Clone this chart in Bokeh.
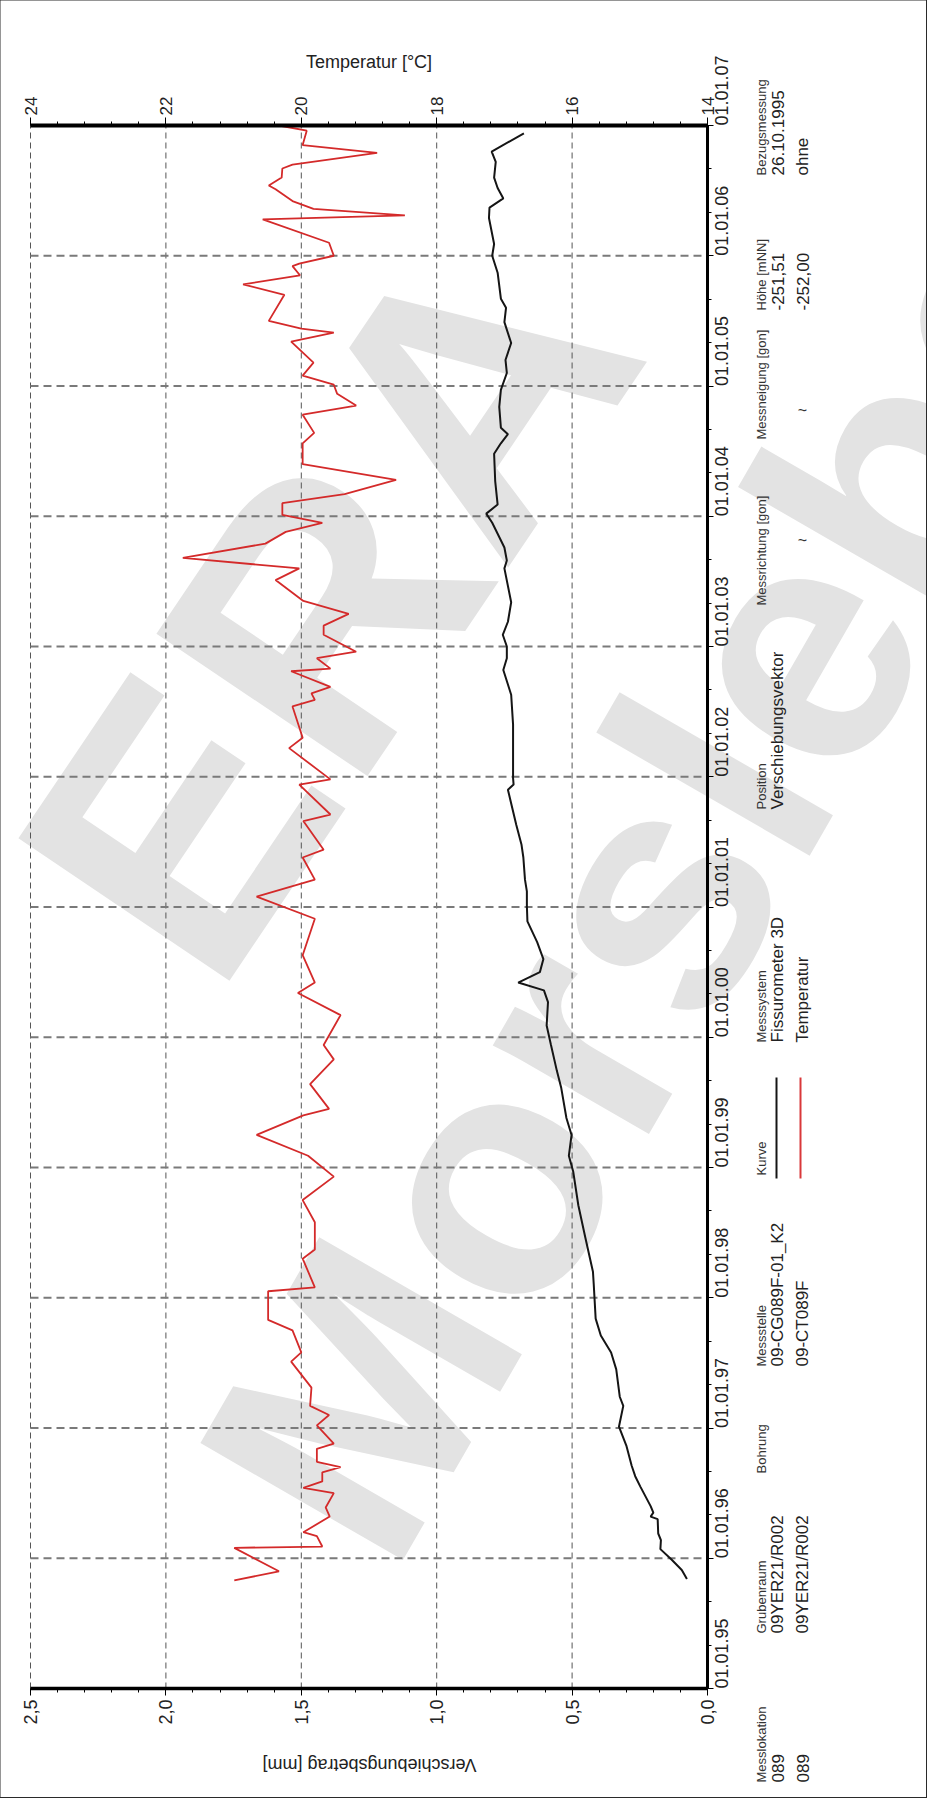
import math
from bokeh.plotting import figure
from bokeh.models import (Range1d, LinearAxis, FixedTicker, CustomJSTickFormatter,
                          Label, BoxAnnotation, InlineStyleSheet)
from bokeh.embed import file_html
from bokeh.resources import INLINE

# ---------------- data ----------------
# Fissurometer 3D - Verschiebungsbetrag [mm]
disp_year = [1995.84, 1995.91, 1995.99, 1996.07, 1996.14, 1996.19, 1996.30, 1996.32, 1996.35, 1996.40,
             1996.55, 1996.63, 1996.71, 1996.86, 1997.01, 1997.17, 1997.24, 1997.45, 1997.58, 1997.71,
             1997.84, 1998.10, 1998.20, 1998.46, 1998.71, 1998.97, 1999.09, 1999.25, 1999.38, 1999.61,
             1999.74, 1999.94, 2000.09, 2000.27, 2000.36, 2000.42, 2000.50, 2000.60, 2000.73, 2000.89,
             2001.01, 2001.12, 2001.21, 2001.38, 2001.48, 2001.63, 2001.90, 2001.94, 2001.99, 2002.40,
             2002.63, 2002.82, 2002.91, 2003.00, 2003.09, 2003.19, 2003.34, 2003.60, 2003.66, 2003.76,
             2003.95, 2004.02, 2004.09, 2004.27, 2004.48, 2004.56, 2004.63, 2004.68, 2004.84, 2004.97,
             2005.10, 2005.20, 2005.33, 2005.49, 2005.60, 2005.67, 2005.87, 2006.00, 2006.09, 2006.29,
             2006.37, 2006.44, 2006.52, 2006.60, 2006.72, 2006.80, 2006.94]
disp_mm = [0.076, 0.095, 0.133, 0.174, 0.172, 0.182, 0.184, 0.210, 0.200, 0.210,
           0.248, 0.267, 0.280, 0.299, 0.327, 0.311, 0.324, 0.337, 0.356, 0.394,
           0.413, 0.420, 0.423, 0.451, 0.477, 0.496, 0.512, 0.502, 0.521, 0.540,
           0.556, 0.578, 0.594, 0.589, 0.604, 0.699, 0.619, 0.606, 0.629, 0.665,
           0.667, 0.667, 0.674, 0.680, 0.687, 0.706, 0.737, 0.716, 0.718, 0.718,
           0.725, 0.754, 0.741, 0.741, 0.756, 0.737, 0.725, 0.750, 0.741, 0.750,
           0.795, 0.817, 0.775, 0.784, 0.788, 0.763, 0.737, 0.763, 0.769, 0.763,
           0.741, 0.746, 0.725, 0.750, 0.744, 0.763, 0.775, 0.795, 0.788, 0.807,
           0.805, 0.754, 0.775, 0.788, 0.782, 0.797, 0.678]

# Temperatur [°C]
temp_year = [1995.83, 1995.90, 1996.08, 1996.09, 1996.17, 1996.20, 1996.32, 1996.39, 1996.50, 1996.54,
             1996.59, 1996.66, 1996.70, 1996.74, 1996.84, 1996.88, 1997.02, 1997.10, 1997.17, 1997.31,
             1997.51, 1997.58, 1997.75, 1997.83, 1998.05, 1998.08, 1998.30, 1998.37, 1998.58, 1998.75,
             1998.93, 1999.09, 1999.25, 1999.40, 1999.45, 1999.64, 1999.83, 1999.94, 2000.17, 2000.34,
             2000.42, 2000.63, 2000.91, 2001.08, 2001.21, 2001.38, 2001.44, 2001.66, 2001.71, 2001.94,
             2001.98, 2002.22, 2002.30, 2002.54, 2002.59, 2002.64, 2002.69, 2002.81, 2002.83, 2002.91,
             2002.96, 2003.09, 2003.16, 2003.25, 2003.35, 2003.51, 2003.60, 2003.68, 2003.79, 2003.88,
             2003.95, 2004.01, 2004.10, 2004.17, 2004.28, 2004.40, 2004.56, 2004.64, 2004.78, 2004.85,
             2004.94, 2005.01, 2005.08, 2005.18, 2005.34, 2005.41, 2005.44, 2005.50, 2005.70, 2005.78,
             2005.85, 2005.92, 2005.94, 2006.00, 2006.10, 2006.28, 2006.31, 2006.36, 2006.42, 2006.51,
             2006.54, 2006.60, 2006.67, 2006.70, 2006.79, 2006.85, 2006.96, 2007.00]
temp_c = [20.99, 20.33, 20.99, 19.69, 19.77, 19.97, 19.58, 19.64, 19.52, 19.97,
          19.69, 19.69, 19.42, 19.77, 19.77, 19.52, 19.77, 19.59, 19.87, 19.85,
          20.15, 20.00, 20.13, 20.49, 20.49, 19.80, 19.98, 19.80, 19.80, 19.98,
          19.52, 19.90, 20.66, 19.97, 19.59, 19.87, 19.52, 19.67, 19.42, 20.05,
          19.80, 19.98, 19.80, 20.66, 19.80, 19.98, 19.67, 19.97, 19.57, 20.03,
          19.57, 20.18, 19.98, 20.13, 19.80, 19.85, 19.57, 20.15, 19.57, 19.77,
          19.19, 19.67, 19.67, 19.30, 19.97, 20.38, 20.03, 21.75, 20.53, 20.23,
          19.69, 20.28, 20.28, 19.36, 18.60, 19.98, 19.98, 19.81, 19.98, 19.19,
          19.47, 19.52, 19.98, 19.82, 20.15, 19.52, 20.00, 20.48, 20.25, 20.86,
          20.02, 20.13, 20.03, 19.52, 19.59, 20.57, 18.47, 19.82, 20.13, 20.38,
          20.48, 20.29, 20.28, 20.13, 18.88, 19.98, 19.92, 20.33]

# ticks and labels
mm_ticks = [0.0, 0.5, 1.0, 1.5, 2.0, 2.5]
mm_labels = ["0,0", "0,5", "1,0", "1,5", "2,0", "2,5"]
temp_ticks = [14, 16, 18, 20, 22, 24]
temp_labels = ["14", "16", "18", "20", "22", "24"]
year_ticks = [1995, 1996, 1997, 1998, 1999, 2000, 2001, 2002, 2003, 2004, 2005, 2006, 2007]
year_labels = ["01.01.95", "01.01.96", "01.01.97", "01.01.98", "01.01.99", "01.01.00", "01.01.01",
               "01.01.02", "01.01.03", "01.01.04", "01.01.05", "01.01.06", "01.01.07"]

# info table (columns of the legend block)
table_headers = ["Messlokation", "Grubenraum", "Bohrung", "Messstelle", "Kurve", "Messsystem",
                 "Position", "Messrichtung [gon]", "Messneigung [gon]", "Höhe [mNN]", "Bezugsmessung"]
table_row1 = ["089", "09YER21/R002", "", "09-CG089F-01_K2", "", "Fissurometer 3D",
              "Verschiebungsvektor", "", "", "-251,51", "26.10.1995"]
table_row2 = ["089", "09YER21/R002", "", "09-CT089F", "", "Temperatur",
              "", "", "", "-252,00", "ohne"]

FONT = "Liberation Sans"

# ---------------- geometry (pixels inside the figure) ----------------
W, H = 926, 1797
PX_L, PX_R, PX_T, PX_B = 30, 707, 125, 1688      # plot area
MM0, MM1 = 2.5, 0.0                               # mm at left / right edge of plot area
T0, T1 = 24.0, 14.0                               # °C at left / right edge
Y0, Y1 = 1995.0, 2007.0                           # years at bottom / top edge

mm_px = (MM0 - MM1) / (PX_R - PX_L)
t_px = (T0 - T1) / (PX_R - PX_L)
yr_px = (Y1 - Y0) / (PX_B - PX_T)

p = figure(width=W, height=H, min_border=0,
           x_range=Range1d(MM0 + PX_L * mm_px, MM1 - (W - PX_R) * mm_px),
           y_range=Range1d(Y0 - (H - PX_B) * yr_px, Y1 + PX_T * yr_px),
           x_axis_location=None, y_axis_location=None,
           output_backend="svg", toolbar_location=None)
p.extra_x_ranges = {"temp": Range1d(T0 + PX_L * t_px, T1 - (W - PX_R) * t_px)}
p.outline_line_color = None
p.background_fill_color = "white"
p.border_fill_color = "white"
p.grid.visible = False
p.stylesheets = [InlineStyleSheet(css=":host { outline: 2px solid #2a2a2a; outline-offset: -1px; }")]


def fmt(tvals, tlabs):
    return CustomJSTickFormatter(args=dict(tvals=tvals, tlabs=tlabs), code="""
        for (let i = 0; i < tvals.length; i++) {
            if (Math.abs(tvals[i] - tick) < 1e-6) { return tlabs[i]; }
        }
        return '';
    """)


def style_axis(ax, lw):
    ax.axis_line_color = "black"
    ax.axis_line_width = lw
    ax.major_tick_line_color = "black"
    ax.minor_tick_line_color = "black"
    ax.major_tick_in = 0
    ax.minor_tick_in = 0
    ax.major_label_text_font = FONT
    ax.major_label_text_color = "#222222"
    ax.axis_label_text_font = FONT
    ax.axis_label_text_font_style = "normal"
    ax.axis_label_text_color = "#222222"
    ax.major_label_orientation = math.pi / 2


# ---------------- watermark (under everything) ----------------
wm1 = Label(x=335 - 8, y=1805 - 613, x_units="screen", y_units="screen", text="ERA",
            angle=math.radians(56), text_align="center", text_baseline="middle",
            text_font=FONT, text_font_style="bold", text_font_size="370px",
            text_color="#e3e3e3", level="underlay")
wm2 = Label(x=722 - 8, y=1805 - 792, x_units="screen", y_units="screen", text="Morsleben",
            angle=math.radians(60), text_align="center", text_baseline="middle",
            text_font=FONT, text_font_style="bold", text_font_size="340px",
            text_color="#e3e3e3", level="underlay")
p.add_layout(wm1)
p.add_layout(wm2)

# ---------------- grid lines (dashed) ----------------
p.segment(x0=mm_ticks, y0=[Y0] * len(mm_ticks), x1=mm_ticks, y1=[Y1] * len(mm_ticks),
          line_color="#555555", line_width=1, line_dash="6 4")
p.segment(x0=[MM0] * len(year_ticks), y0=year_ticks, x1=[MM1] * len(year_ticks), y1=year_ticks,
          line_color="#7a7a7a", line_width=2, line_dash="8 5")

# ---------------- curves ----------------
p.line(disp_mm, disp_year, line_color="#151515", line_width=2)
p.line(temp_c, temp_year, x_range_name="temp", line_color="#d42a2a", line_width=1.8)

# ---------------- axes ----------------
mm_ticker = FixedTicker(ticks=mm_ticks, minor_ticks=[round(0.1 * i, 2) for i in range(26)])
xax = LinearAxis(ticker=mm_ticker, formatter=fmt(mm_ticks, mm_labels),
                 fixed_location=Y0, bounds=(MM1, MM0))
style_axis(xax, 3.5)
xax.major_tick_out = 7
xax.minor_tick_out = 4
xax.major_label_standoff = 4
xax.major_label_text_font_size = "18px"
p.add_layout(xax, "below")

temp_ticker = FixedTicker(ticks=temp_ticks, minor_ticks=[round(14 + 0.4 * i, 2) for i in range(26)])
tax = LinearAxis(x_range_name="temp", ticker=temp_ticker, formatter=fmt(temp_ticks, temp_labels),
                 axis_label="Temperatur [°C]", fixed_location=Y1, bounds=(T1, T0))
style_axis(tax, 4)
tax.major_tick_out = 8
tax.minor_tick_out = 4
tax.major_label_standoff = 2
tax.major_label_text_font_size = "17px"
tax.axis_label_text_font_size = "18px"
tax.axis_label_standoff = 22
p.add_layout(tax, "above")

yr_ticker = FixedTicker(ticks=year_ticks, minor_ticks=[1995 + i / 3.0 for i in range(37)])
yax = LinearAxis(ticker=yr_ticker, formatter=fmt(year_ticks, year_labels),
                 fixed_location=MM1, bounds=(Y0, Y1))
style_axis(yax, 3)
yax.major_tick_out = 6
yax.minor_tick_out = 4
yax.major_label_standoff = 8
yax.major_label_text_font_size = "18px"
p.add_layout(yax, "right")

# ---------------- axis title below (upside down) ----------------
p.add_layout(Label(x=377 - 8, y=1805 - 1772, x_units="screen", y_units="screen",
                   text="Verschiebungsbetrag [mm]", angle=math.pi,
                   text_align="center", text_baseline="middle",
                   text_font=FONT, text_font_size="18px", text_color="#222222"))

# ---------------- info table (page-pixel positions) ----------------
col_bottom_page = [1790, 1641, 1481, 1374, 1183, 1050, 817, 613, 447, 318, 183]
hdr_x, r1_x, r2_x = 769 - 8, 785 - 8, 810 - 8
for hdr, v1, v2, yb in zip(table_headers, table_row1, table_row2, col_bottom_page):
    ys = 1805 - yb
    p.add_layout(Label(x=hdr_x, y=ys, x_units="screen", y_units="screen", text=hdr,
                       angle=math.pi / 2, text_align="left", text_baseline="middle",
                       text_font=FONT, text_font_size="13px", text_color="#333333"))
    for txt, xx in ((v1, r1_x), (v2, r2_x)):
        if txt:
            p.add_layout(Label(x=xx, y=ys, x_units="screen", y_units="screen", text=txt,
                               angle=math.pi / 2, text_align="left", text_baseline="middle",
                               text_font=FONT, text_font_size="17px",
                               text_color="#222222"))

for yy in (548, 418):
    p.add_layout(Label(x=r2_x, y=1805 - yy, x_units="screen", y_units="screen", text="~",
                       text_align="center", text_baseline="middle",
                       text_font=FONT, text_font_size="16px", text_color="#333333"))

# legend line samples in the "Kurve" column
for xx, col in ((r1_x - 1, "#151515"), (r2_x - 2, "#d9383a")):
    p.add_layout(BoxAnnotation(left=xx - 1, right=xx + 1, bottom=1805 - 1186, top=1805 - 1085,
                               left_units="screen", right_units="screen",
                               bottom_units="screen", top_units="screen",
                               fill_color=col, fill_alpha=1.0, line_color=None))

open("out.html", "w").write(file_html(p, INLINE, "Fissurometer"))
